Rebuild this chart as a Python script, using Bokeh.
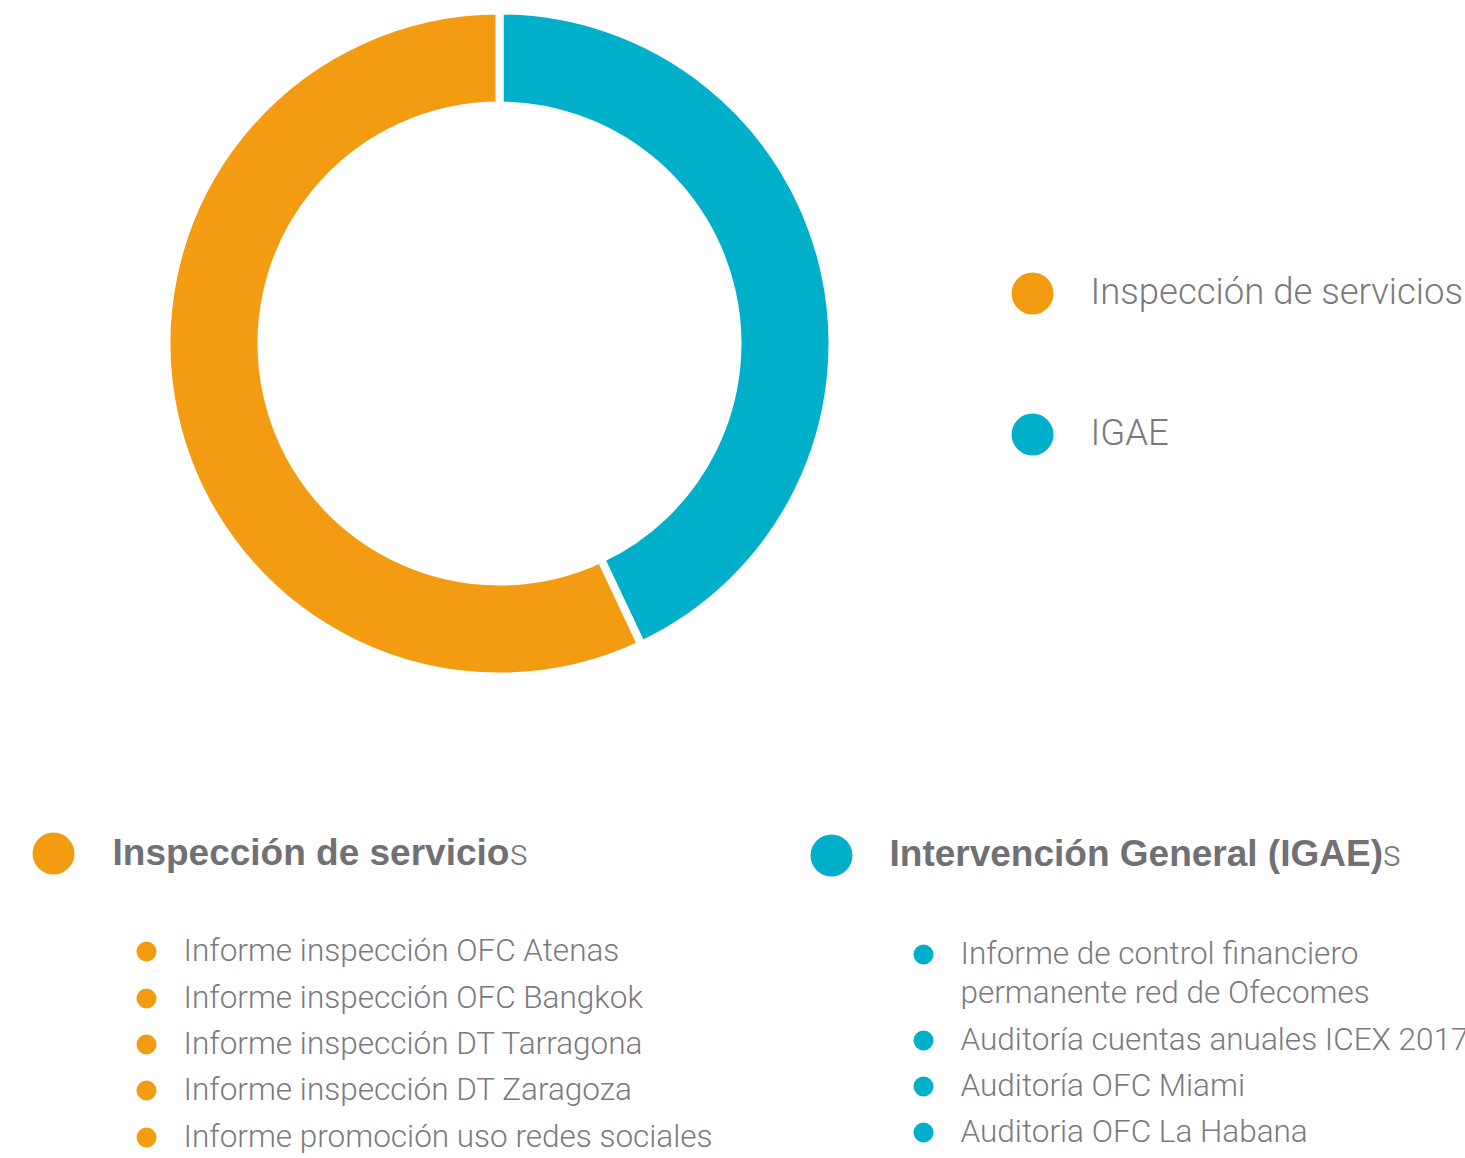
import math
from bokeh.plotting import figure
from bokeh.models import Range1d
from bokeh.core.properties import value
from bokeh.embed import file_html
from bokeh.resources import INLINE

# ---- data ----
categories = ["Inspección de servicios", "IGAE"]
values = [57, 43]
colors = ["#F39C12", "#00B0CB"]

section_titles = ["Inspección de servicio", "Intervención General (IGAE)"]
inspeccion_items = [
    "Informe inspección OFC Atenas",
    "Informe inspección OFC Bangkok",
    "Informe inspección DT Tarragona",
    "Informe inspección DT Zaragoza",
    "Informe promoción uso redes sociales",
]
igae_items = [
    ["Informe de control financiero", "permanente red de Ofecomes"],
    ["Auditoría cuentas anuales ICEX 2017"],
    ["Auditoría OFC Miami"],
    ["Auditoria OFC La Habana"],
]

# ---- page geometry (1 data unit = 1 px; data y = H - screen y) ----
W, H = 1465, 1158
TXT_SHIFT = 12  # rendered baseline correction

def Y(sy):
    return H - sy

def YT(sy):
    return H - (sy - TXT_SHIFT)

p = figure(width=W, height=H, output_backend="svg", toolbar_location=None,
           x_range=Range1d(0, W), y_range=Range1d(0, H),
           min_border=0, outline_line_color=None)
p.axis.visible = False
p.grid.visible = False
p.background_fill_color = "white"
p.border_fill_color = "white"

FONT = value("'Roboto Light', Roboto, 'Liberation Sans', sans-serif")
FONT_B = value("'Liberation Sans', Arial, sans-serif")
GRAY = "#7a7a7e"
GRAY_B = "#717175"

# ---- donut: IGAE first, clockwise from 12 o'clock ----
cx, cy = 499, Y(343)
total = sum(values)
order = [1, 0]
start = math.pi / 2
for i in order:
    span = values[i] / total * 2 * math.pi
    end = start - span
    p.annular_wedge(x=cx, y=cy, inner_radius=238, outer_radius=333,
                    inner_radius_units="screen", outer_radius_units="screen",
                    start_angle=start, end_angle=end, direction="clock",
                    fill_color=colors[i], line_color="white", line_width=8)
    start = end

# ---- top-right legend ----
leg_y = [293, 434]
leg_base = [303, 444]
for i, cat in enumerate(categories):
    p.scatter(x=[1032], y=[Y(leg_y[i])], size=42, marker="circle",
              fill_color=colors[i], line_color=None)
    p.text(x=[1090], y=[YT(leg_base[i])], text=[cat], text_font=FONT,
           text_font_size="36.5px", text_color=GRAY, text_baseline="alphabetic")

# ---- bottom sections ----
# left heading
p.scatter(x=[53], y=[Y(853)], size=42, marker="circle", fill_color=colors[0], line_color=None)
p.text(x=[112], y=[YT(864)], text=[section_titles[0]], text_font=FONT_B, text_font_style="bold",
       text_font_size="37px", text_color=GRAY_B, text_baseline="alphabetic")
p.text(x=[509], y=[YT(864)], text=["s"], text_font=FONT,
       text_font_size="37px", text_color=GRAY, text_baseline="alphabetic")

left_base = [962, 1009, 1055, 1101, 1148]
for item, b in zip(inspeccion_items, left_base):
    p.scatter(x=[146], y=[Y(b - 11)], size=20, marker="circle", fill_color=colors[0], line_color=None)
    p.text(x=[183], y=[YT(b)], text=[item], text_font=FONT,
           text_font_size="31.5px", text_color=GRAY, text_baseline="alphabetic")

# right heading
p.scatter(x=[831], y=[Y(855)], size=42, marker="circle", fill_color=colors[1], line_color=None)
p.text(x=[889], y=[YT(865)], text=[section_titles[1]], text_font=FONT_B, text_font_style="bold",
       text_font_size="37px", text_color=GRAY_B, text_baseline="alphabetic")
p.text(x=[1382], y=[YT(865)], text=["s"], text_font=FONT,
       text_font_size="37px", text_color=GRAY, text_baseline="alphabetic")

right_base = [965, 1051, 1097, 1143]
for lines, b in zip(igae_items, right_base):
    p.scatter(x=[923], y=[Y(b - 11)], size=20, marker="circle", fill_color=colors[1], line_color=None)
    for k, line in enumerate(lines):
        p.text(x=[960], y=[YT(b + 39 * k)], text=[line], text_font=FONT,
               text_font_size="31.5px", text_color=GRAY, text_baseline="alphabetic")

open("out.html", "w").write(file_html(p, INLINE))
